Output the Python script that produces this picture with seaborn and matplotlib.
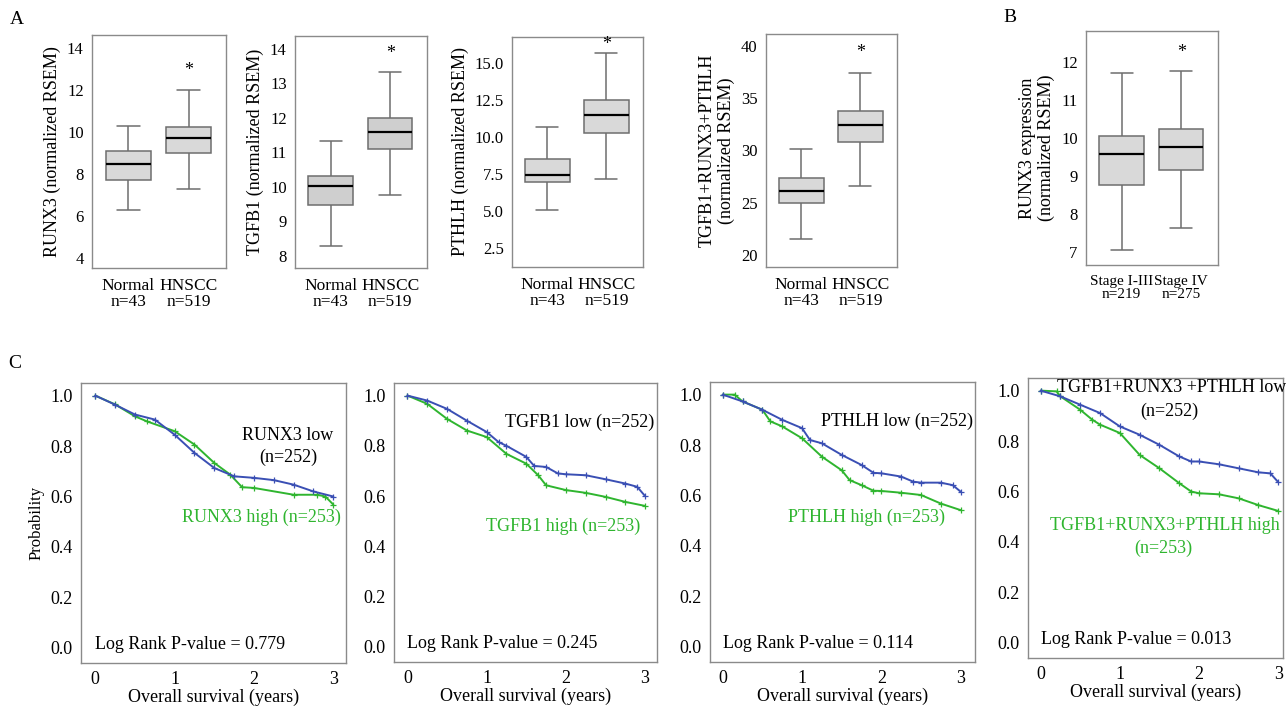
import matplotlib
matplotlib.use("Agg")
import matplotlib.pyplot as plt
import pandas as pd
import seaborn as sns

# ---- panel A / B : five-number summaries (min, Q1, median, Q3, max)
groups_tissue = ["Normal\nn=43", "HNSCC\nn=519"]
groups_stage = ["Stage I-III\nn=219", "Stage IV\nn=275"]

runx3_normal = [6.24, 7.68, 8.46, 9.05, 10.27]
runx3_hnscc = [7.25, 9.00, 9.68, 10.20, 12.00]
tgfb1_normal = [8.29, 9.46, 10.03, 10.32, 11.33]
tgfb1_hnscc = [9.77, 11.08, 11.58, 11.99, 13.32]
pthlh_normal = [5.09, 6.94, 7.41, 8.51, 10.67]
pthlh_hnscc = [7.16, 10.29, 11.49, 12.50, 15.65]
combo_normal = [21.48, 25.00, 26.15, 27.34, 30.16]
combo_hnscc = [26.61, 30.85, 32.46, 33.80, 37.46]
stage_early = [7.06, 8.78, 9.59, 10.06, 11.71]
stage_late = [7.65, 9.17, 9.76, 10.23, 11.76]

# ---- panel C : Kaplan-Meier curves
runx3_low_t = [0, 0.25, 0.5, 0.75, 1.0, 1.25, 1.5, 1.75, 2.0, 2.25, 2.5, 2.75, 3.0]
runx3_low_s = [1.0, 0.964, 0.925, 0.905, 0.845, 0.773, 0.713, 0.68, 0.674, 0.665, 0.647, 0.62, 0.60]
runx3_high_t = [0, 0.25, 0.5, 0.65, 1.0, 1.25, 1.5, 1.7, 1.85, 2.0, 2.5, 2.8, 2.9, 3.0]
runx3_high_s = [1.0, 0.965, 0.918, 0.898, 0.859, 0.806, 0.733, 0.687, 0.637, 0.634, 0.607, 0.607, 0.60, 0.568]

tgfb1_low_t = [0, 0.25, 0.5, 0.75, 1.0, 1.15, 1.25, 1.5, 1.6, 1.75, 1.9, 2.0, 2.25, 2.5, 2.75, 2.9, 3.0]
tgfb1_low_s = [1.0, 0.98, 0.947, 0.90, 0.855, 0.815, 0.80, 0.756, 0.72, 0.716, 0.69, 0.687, 0.683, 0.667, 0.65, 0.637, 0.60]
tgfb1_high_t = [0, 0.25, 0.5, 0.75, 1.0, 1.25, 1.5, 1.65, 1.75, 2.0, 2.25, 2.5, 2.75, 3.0]
tgfb1_high_s = [1.0, 0.967, 0.907, 0.861, 0.835, 0.768, 0.729, 0.683, 0.643, 0.624, 0.613, 0.597, 0.577, 0.561]

pthlh_low_t = [0, 0.25, 0.5, 0.75, 1.0, 1.1, 1.25, 1.5, 1.75, 1.9, 2.0, 2.25, 2.4, 2.5, 2.75, 2.9, 3.0]
pthlh_low_s = [1.0, 0.973, 0.94, 0.90, 0.867, 0.82, 0.807, 0.761, 0.721, 0.69, 0.688, 0.675, 0.655, 0.651, 0.651, 0.641, 0.615]
pthlh_high_t = [0, 0.15, 0.25, 0.5, 0.6, 0.75, 1.0, 1.25, 1.5, 1.6, 1.75, 1.9, 2.0, 2.25, 2.5, 2.75, 3.0]
pthlh_high_s = [1.0, 1.0, 0.973, 0.94, 0.894, 0.874, 0.827, 0.754, 0.70, 0.661, 0.641, 0.619, 0.618, 0.611, 0.602, 0.568, 0.542]

combo_low_t = [0, 0.25, 0.5, 0.75, 1.0, 1.25, 1.5, 1.75, 1.9, 2.0, 2.25, 2.5, 2.75, 2.9, 3.0]
combo_low_s = [1.0, 0.977, 0.944, 0.911, 0.858, 0.825, 0.785, 0.739, 0.719, 0.719, 0.708, 0.692, 0.676, 0.672, 0.637]
combo_high_t = [0, 0.2, 0.25, 0.5, 0.65, 0.75, 1.0, 1.25, 1.5, 1.75, 1.9, 2.0, 2.25, 2.5, 2.75, 3.0]
combo_high_s = [1.0, 0.997, 0.977, 0.924, 0.885, 0.865, 0.832, 0.745, 0.692, 0.633, 0.60, 0.593, 0.589, 0.573, 0.546, 0.523]

W, H = 1286, 706
BLUE = "#3a4fb4"
GREEN = "#2fb52f"
FRAME = "#8a8a8a"

sns.set_style("white")
plt.rcParams["font.family"] = ["Liberation Serif", "DejaVu Serif"]
plt.rcParams["text.color"] = "black"
plt.rcParams["axes.labelcolor"] = "black"

fig = plt.figure(figsize=(W / 100, H / 100), dpi=100)


def px_rect(x0, y0, x1, y1):
    return [x0 / W, 1 - y1 / H, (x1 - x0) / W, (y1 - y0) / H]


def style_frame(ax, tick_size):
    for s in ax.spines.values():
        s.set_color(FRAME)
        s.set_linewidth(1)
    ax.tick_params(direction="out", length=4, width=1, color=FRAME,
                   labelsize=tick_size, labelcolor="black", pad=2)


def box_panel(rect, labels, first, second, ylabel, yticks, ylim, star_y,
              fill="#d9d9d9", xsize=12.5):
    ax = fig.add_axes(px_rect(*rect))
    df = pd.DataFrame({"group": [labels[0]] * len(first) + [labels[1]] * len(second),
                       "value": first + second})
    sns.boxplot(data=df, x="group", y="value", order=labels, whis=(0, 100), width=0.75,
                color=fill, saturation=1, linecolor="#6e6e6e", linewidth=1.1,
                medianprops={"color": "black", "linewidth": 1.6}, showfliers=False, ax=ax)
    ax.set_xlim(-0.6, 1.62)
    ax.set_ylim(*ylim)
    ax.set_yticks(yticks)
    ax.set_xlabel("")
    ax.set_ylabel(ylabel, fontsize=13, labelpad=4)
    style_frame(ax, 12)
    ax.tick_params(axis="x", labelsize=xsize, pad=3)
    for t in ax.get_xticklabels():
        t.set_linespacing(1.05)
    ax.text(1, star_y, "*", ha="center", va="center", fontsize=13)
    return ax


box_panel((92, 35, 226, 268), groups_tissue, runx3_normal, runx3_hnscc,
          "RUNX3 (normalized RSEM)", [4, 6, 8, 10, 12, 14], (3.5, 14.6), 12.9)
box_panel((295, 36, 427, 268), groups_tissue, tgfb1_normal, tgfb1_hnscc,
          "TGFB1 (normalized RSEM)", [8, 9, 10, 11, 12, 13, 14], (7.64, 14.37), 13.85,
          fill="#cfcfcf")
box_panel((512, 37, 643, 267), groups_tissue, pthlh_normal, pthlh_hnscc,
          "PTHLH (normalized RSEM)", [2.5, 5.0, 7.5, 10.0, 12.5, 15.0], (1.24, 16.73), 16.25)
box_panel((766, 34, 897, 267), groups_tissue, combo_normal, combo_hnscc,
          "TGFB1+RUNX3+PTHLH\n(normalized RSEM)", [20, 25, 30, 35, 40], (18.81, 41.19), 39.45)
box_panel((1086, 31, 1218, 265), groups_stage, stage_early, stage_late,
          "RUNX3 expression\n(normalized RSEM)", [7, 8, 9, 10, 11, 12], (6.67, 12.81), 12.25,
          xsize=11)


def km_panel(rect, xlim, low, high, pvalue, ylabel=None):
    ax = fig.add_axes(px_rect(*rect))
    for (t, s), col in ((high, GREEN), (low, BLUE)):
        sns.lineplot(x=t, y=s, ax=ax, color=col, linewidth=1.4, estimator=None, sort=True,
                     marker="+", markersize=4, markeredgewidth=0.9, markeredgecolor=col)
    ax.set_xlim(*xlim)
    ax.set_ylim(-0.06, 1.05)
    ax.set_xticks([0, 1, 2, 3])
    ax.set_yticks([0.0, 0.2, 0.4, 0.6, 0.8, 1.0])
    ax.set_yticklabels(["0.0", "0.2", "0.4", "0.6", "0.8", "1.0"])
    ax.set_xlabel("Overall survival (years)", fontsize=13, labelpad=0)
    ax.set_ylabel(ylabel if ylabel else "", fontsize=12)
    style_frame(ax, 13)
    ax.text(0.0, 0.015, "Log Rank P-value = " + pvalue, fontsize=13, ha="left", va="center")
    return ax


ax = km_panel((81, 383, 346, 663), (-0.18, 3.16), (runx3_low_t, runx3_low_s),
              (runx3_high_t, runx3_high_s), "0.779", ylabel="Probability")
ax.text(2.43, 0.84, "RUNX3 low", fontsize=13, ha="center", va="center")
ax.text(2.43, 0.754, "(n=252)", fontsize=13, ha="center", va="center")
ax.text(2.1, 0.516, "RUNX3 high (n=253)", fontsize=13, ha="center", va="center",
        color=GREEN, clip_on=False)

ax = km_panel((394, 383, 657, 662), (-0.17, 3.15), (tgfb1_low_t, tgfb1_low_s),
              (tgfb1_high_t, tgfb1_high_s), "0.245")
ax.text(3.12, 0.894, "TGFB1 low (n=252)", fontsize=13, ha="right", va="center")
ax.text(1.97, 0.478, "TGFB1 high (n=253)", fontsize=13, ha="center", va="center", color=GREEN)

ax = km_panel((710, 382, 975, 662), (-0.16, 3.18), (pthlh_low_t, pthlh_low_s),
              (pthlh_high_t, pthlh_high_s), "0.114")
ax.text(3.16, 0.894, "PTHLH low (n=252)", fontsize=13, ha="right", va="center")
ax.text(1.81, 0.515, "PTHLH high (n=253)", fontsize=13, ha="center", va="center", color=GREEN)

ax = km_panel((1028, 378, 1283, 658), (-0.16, 3.06), (combo_low_t, combo_low_s),
              (combo_high_t, combo_high_s), "0.013")
ax.text(1.65, 1.013, "TGFB1+RUNX3 +PTHLH low", fontsize=13, ha="center", va="center")
ax.text(1.63, 0.918, "(n=252)", fontsize=13, ha="center", va="center")
ax.text(1.57, 0.467, "TGFB1+RUNX3+PTHLH high", fontsize=13, ha="center", va="center", color=GREEN)
ax.text(1.55, 0.374, "(n=253)", fontsize=13, ha="center", va="center", color=GREEN)

for letter, x, y in (("A", 10, 20), ("B", 1003, 18), ("C", 8, 363)):
    fig.text(x / W, 1 - y / H, letter, fontsize=14, ha="left", va="center")

fig.savefig("out.png", dpi=100)
